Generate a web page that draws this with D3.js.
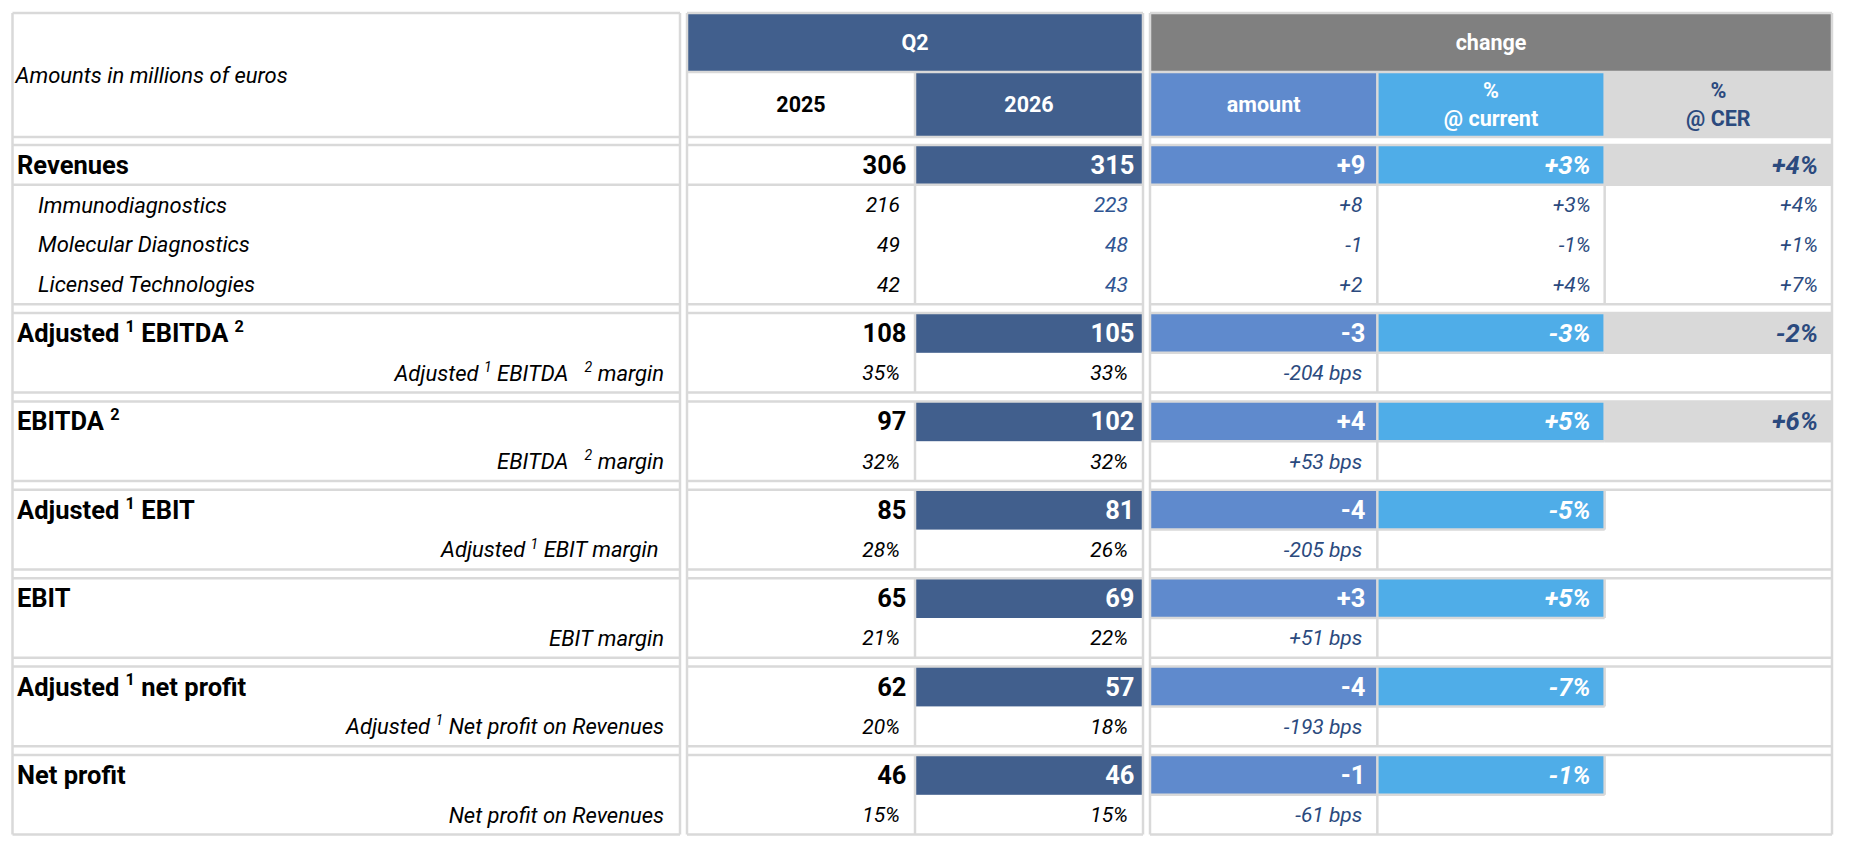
<!DOCTYPE html>
<html>
<head>
<meta charset="utf-8">
<script src="https://cdn.jsdelivr.net/npm/d3@7"></script>
<style>
  body { margin: 0; background: #fff; }
  text { font-family: Roboto, "Noto Sans", sans-serif; white-space: pre; }
</style>
</head>
<body>
<div id="chart"></div>
<script>
// ---- data ----
var rowLabels = [
  "Revenues", "Immunodiagnostics", "Molecular Diagnostics", "Licensed Technologies",
  "Adjusted ^1 EBITDA ^2", "Adjusted ^1 EBITDA   ^2 margin",
  "EBITDA ^2", "EBITDA   ^2 margin",
  "Adjusted ^1 EBIT", "Adjusted ^1 EBIT margin ",
  "EBIT", "EBIT margin",
  "Adjusted ^1 net profit", "Adjusted ^1 Net profit on Revenues",
  "Net profit", "Net profit on Revenues"
];
var rowKinds = ["head", "sub", "sub", "sub",
  "head", "margin", "head", "margin", "head", "margin",
  "head", "margin", "head", "margin", "head", "margin"];
var rowGroups = [0, 0, 0, 0, 1, 1, 2, 2, 3, 3, 4, 4, 5, 5, 6, 6];

var q2Years = ["2025", "2026"];
var changeCols = ["amount", "current", "cer"];

var v2025 = ["306", "216", "49", "42", "108", "35%", "97", "32%", "85", "28%", "65", "21%", "62", "20%", "46", "15%"];
var v2026 = ["315", "223", "48", "43", "105", "33%", "102", "32%", "81", "26%", "69", "22%", "57", "18%", "46", "15%"];
var chgAmount = ["+9", "+8", "-1", "+2", "-3", "-204 bps", "+4", "+53 bps", "-4", "-205 bps", "+3", "+51 bps", "-4", "-193 bps", "-1", "-61 bps"];
var chgCurrent = ["+3%", "+3%", "-1%", "+4%", "-3%", "", "+5%", "", "-5%", "", "+5%", "", "-7%", "", "-1%", ""];
var chgCer = ["+4%", "+4%", "+1%", "+7%", "-2%", "", "+6%", "", "", "", "", "", "", "", "", ""];

// ---- layout ----
var W = 1852, H = 860;
var top0 = 13, bandBottom = 72, headBottom = 137, bodyTop = 145;
var rowH = 39.8, gapH = 8.8;
var lineColor = "#d9d9d9";
var colors = {
  q2: "#415f8d", change: "#808080", amount: "#5f8acd",
  current: "#4fade8", cer: "#d9d9d9", navy: "#2b4a7e", blue: "#2f5592"
};
var fsBold = 25.5, fsItal = 22, fsNum = 21, fsHead = 21.5;

var svg = d3.select("#chart").append("svg")
  .attr("width", W).attr("height", H);

var labelX = d3.scaleLinear().domain([0, 1]).range([12.5, 680]);
var q2X = d3.scaleBand().domain(q2Years).range([687, 1143]);
var chgX = d3.scaleBand().domain(changeCols).range([1150, 1832]);

var nGroups = d3.max(rowGroups) + 1;
var gapRatio = gapH / rowH;
var slotY = d3.scaleLinear()
  .domain([0, rowLabels.length + (nGroups - 1) * gapRatio])
  .range([bodyTop, bodyTop + rowLabels.length * rowH + (nGroups - 1) * gapH]);
function rowTop(i) { return slotY(i + rowGroups[i] * gapRatio); }
function rowBot(i) { return slotY(i + 1 + rowGroups[i] * gapRatio); }
var tableBottom = rowBot(rowLabels.length - 1);

var groups = d3.range(nGroups).map(function(g) {
  var idx = d3.range(rowLabels.length).filter(function(i) { return rowGroups[i] === g; });
  return { g: g, first: idx[0], last: idx[idx.length - 1], top: rowTop(idx[0]), bottom: rowBot(idx[idx.length - 1]) };
});

var fills = svg.append("g");
var lines = svg.append("g").attr("stroke", lineColor).attr("stroke-width", 2.5).attr("fill", "none");
var texts = svg.append("g");

function hline(x1, x2, y) { lines.append("line").attr("x1", x1).attr("x2", x2).attr("y1", y).attr("y2", y); }
function vline(x, y1, y2) { lines.append("line").attr("x1", x).attr("x2", x).attr("y1", y1).attr("y2", y2); }
function fillRect(x1, x2, y1, y2, c) {
  fills.append("rect").attr("x", x1).attr("y", y1).attr("width", x2 - x1).attr("height", y2 - y1).attr("fill", c);
}

// label text with superscripts written as ^n
function addLabel(sel, str, fs) {
  var parts = str.split(/(\^\d)/).filter(function(p) { return p !== ""; });
  var raise = fs * 0.4, pending = 0;
  parts.forEach(function(p) {
    var t = sel.append("tspan");
    if (p[0] === "^") {
      t.text(p.slice(1)).attr("font-size", fs * 0.64).attr("dy", -raise + pending);
      pending = raise;
    } else {
      t.text(p);
      if (pending) t.attr("dy", pending);
      pending = 0;
    }
  });
}

function cellText(x, yc, str, opt) {
  var t = texts.append("text")
    .attr("x", x).attr("y", yc + opt.size * 0.36)
    .attr("text-anchor", opt.anchor || "end")
    .attr("font-size", opt.size)
    .attr("font-weight", opt.bold ? 700 : 400)
    .attr("font-style", opt.italic ? "italic" : "normal")
    .attr("fill", opt.color || "#000");
  addLabel(t, str, opt.size);
  return t;
}

// ---- header ----
var q2L = q2X.range()[0], q2R = q2X.range()[1];
var chL = chgX.range()[0], chR = chgX.range()[1];
fillRect(q2L, q2R, top0, bandBottom, colors.q2);
fillRect(q2X("2026"), q2R, bandBottom, headBottom, colors.q2);
fillRect(chL, chR, top0, bandBottom, colors.change);
fillRect(chgX("amount"), chgX("amount") + chgX.bandwidth(), bandBottom, headBottom, colors.amount);
fillRect(chgX("current"), chgX("current") + chgX.bandwidth(), bandBottom, headBottom, colors.current);
fillRect(chgX("cer"), chR, bandBottom, headBottom, colors.cer);

cellText(labelX(0) + 3, (top0 + headBottom) / 2, "Amounts in millions of euros", { anchor: "start", size: fsItal, italic: true });
cellText((q2L + q2R) / 2, (top0 + bandBottom) / 2, "Q2", { anchor: "middle", size: fsHead, bold: true, color: "#fff" });
cellText((chL + chR) / 2, (top0 + bandBottom) / 2, "change", { anchor: "middle", size: fsHead, bold: true, color: "#fff" });
var subMid = (bandBottom + headBottom) / 2;
cellText(q2X("2025") + q2X.bandwidth() / 2, subMid, "2025", { anchor: "middle", size: fsHead, bold: true });
cellText(q2X("2026") + q2X.bandwidth() / 2, subMid, "2026", { anchor: "middle", size: fsHead, bold: true, color: "#fff" });
cellText(chgX("amount") + chgX.bandwidth() / 2, subMid, "amount", { anchor: "middle", size: fsHead, bold: true, color: "#fff" });
[["current", "@ current", "#fff"], ["cer", "@ CER", colors.navy]].forEach(function(c) {
  var cx = chgX(c[0]) + chgX.bandwidth() / 2;
  cellText(cx, subMid - 14, "%", { anchor: "middle", size: fsHead, bold: true, color: c[2] });
  cellText(cx, subMid + 14, c[1], { anchor: "middle", size: fsHead, bold: true, color: c[2] });
});

// ---- body fills ----
rowLabels.forEach(function(lbl, i) {
  if (rowKinds[i] !== "head") return;
  var y1 = rowTop(i), y2 = rowBot(i);
  fillRect(q2X("2026"), q2R, y1, y2, colors.q2);
  fillRect(chgX("amount"), chgX("amount") + chgX.bandwidth(), y1, y2, colors.amount);
  fillRect(chgX("current"), chgX("current") + chgX.bandwidth(), y1, y2, colors.current);
  if (chgCer[i]) fillRect(chgX("cer"), chR, y1, y2, colors.cer);
});

// ---- grid lines ----
var blockEdges = [labelX(0), labelX(1), q2L, q2R, chL, chR];
blockEdges.forEach(function(x) { vline(x, top0, tableBottom); });
[[labelX(0), labelX(1)], [q2L, q2R], [chL, chR]].forEach(function(b) {
  hline(b[0], b[1], top0);
  hline(b[0], b[1], headBottom);
  groups.forEach(function(g) { hline(b[0], b[1], g.top); hline(b[0], b[1], g.bottom); });
});
hline(q2L, q2R, bandBottom);
hline(chL, chR, bandBottom);
vline(q2X("2026"), bandBottom, headBottom);
vline(chgX("current"), bandBottom, headBottom);
vline(chgX("cer"), bandBottom, headBottom);

groups.forEach(function(g) {
  var rowEnd = rowBot(g.first);
  vline(q2X("2026"), g.top, g.bottom);
  vline(chgX("current"), g.top, g.bottom);
  if (g.last - g.first > 1) {
    // revenue block: full grid under the title row
    vline(chgX("cer"), g.top, g.bottom);
    hline(labelX(0), labelX(1), rowEnd);
    hline(q2L, q2R, rowEnd);
    hline(chL, chR, rowEnd);
  } else {
    vline(chgX("cer"), g.top, rowEnd);
    hline(chL, chgX("cer"), rowEnd);
    if (chgCer[g.first]) hline(chgX("cer"), chR, rowEnd);
  }
});

// ---- body text ----
rowLabels.forEach(function(lbl, i) {
  var kind = rowKinds[i];
  var yc = (rowTop(i) + rowBot(i)) / 2;
  var head = kind === "head";
  var numSize = head ? fsBold : fsNum;

  if (kind === "head") cellText(labelX(0) + 4.5, yc, lbl, { anchor: "start", size: fsBold, bold: true });
  else if (kind === "sub") cellText(labelX(0) + 25.5, yc, lbl, { anchor: "start", size: fsItal, italic: true });
  else cellText(labelX(1) - 16, yc, lbl, { anchor: "end", size: fsItal, italic: true });

  var q2Pad = head ? 8.5 : 15;
  cellText(q2X("2025") + q2X.bandwidth() - q2Pad, yc, v2025[i], { size: numSize, bold: head, italic: !head });
  cellText(q2R - q2Pad, yc, v2026[i], {
    size: numSize, bold: head, italic: !head,
    color: head ? "#fff" : (kind === "sub" ? colors.blue : "#000")
  });

  cellText(chgX("amount") + chgX.bandwidth() - (head ? 12 : 15), yc, chgAmount[i], {
    size: numSize, bold: head, italic: !head, color: head ? "#fff" : colors.navy
  });
  if (chgCurrent[i]) cellText(chgX("current") + chgX.bandwidth() - 14, yc, chgCurrent[i], {
    size: numSize, bold: head, italic: true, color: head ? "#fff" : colors.navy
  });
  if (chgCer[i]) cellText(chR - 14, yc, chgCer[i], {
    size: numSize, bold: head, italic: true, color: colors.navy
  });
});
</script>
</body>
</html>
